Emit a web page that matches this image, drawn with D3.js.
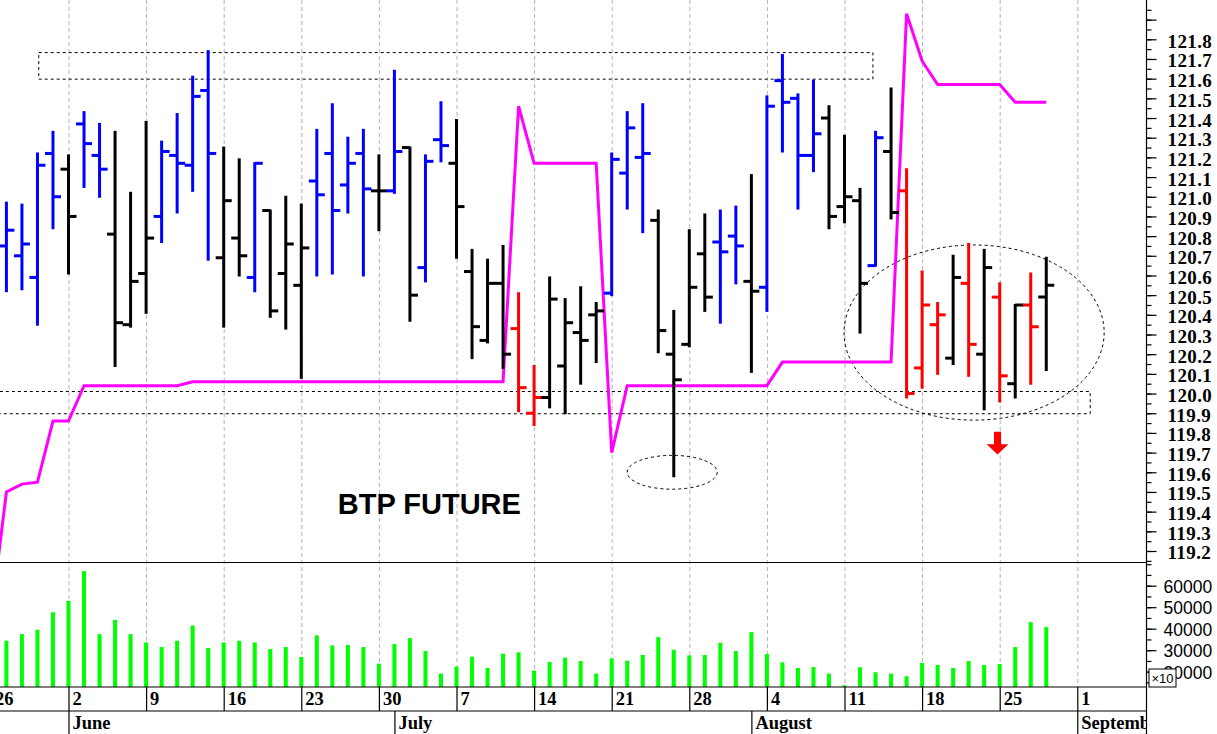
<!DOCTYPE html>
<html><head><meta charset="utf-8">
<script src="https://cdn.jsdelivr.net/npm/d3@7"></script>
<style>body{margin:0;background:#fff}svg{display:block}</style>
</head><body>
<svg id="c" width="1217" height="734"></svg>
<script>
// ---------------- DATA ----------------
const dates = [
 "2014-05-26","2014-05-27","2014-05-28","2014-05-29","2014-05-30",
 "2014-06-02","2014-06-03","2014-06-04","2014-06-05","2014-06-06",
 "2014-06-09","2014-06-10","2014-06-11","2014-06-12","2014-06-13",
 "2014-06-16","2014-06-17","2014-06-18","2014-06-19","2014-06-20",
 "2014-06-23","2014-06-24","2014-06-25","2014-06-26","2014-06-27",
 "2014-06-30","2014-07-01","2014-07-02","2014-07-03","2014-07-04",
 "2014-07-07","2014-07-08","2014-07-09","2014-07-10","2014-07-11",
 "2014-07-14","2014-07-15","2014-07-16","2014-07-17","2014-07-18",
 "2014-07-21","2014-07-22","2014-07-23","2014-07-24","2014-07-25",
 "2014-07-28","2014-07-29","2014-07-30","2014-07-31","2014-08-01",
 "2014-08-04","2014-08-05","2014-08-06","2014-08-07","2014-08-08",
 "2014-08-11","2014-08-12","2014-08-13","2014-08-14","2014-08-15",
 "2014-08-18","2014-08-19","2014-08-20","2014-08-21","2014-08-22",
 "2014-08-25","2014-08-26","2014-08-27","2014-08-28"
];
const futureDates = ["2014-08-29","2014-09-01"];

const open = [120.70,120.75,120.70,120.59,121.22, 121.14,121.37,121.21,120.81,120.35, 120.61,120.90,121.21,121.16,121.54,
 120.69,120.79,120.59,120.93,120.61, 120.55,121.08,121.22,121.06,121.22, 121.03,121.03,121.25,120.64,121.29,
 121.17,120.62,120.27,120.56,120.33, 119.90,119.98,120.14,120.31,120.40, 120.51,121.12,121.20,120.88,120.20,
 120.25,120.71,120.77,120.80,120.57, 120.54,121.59,121.50,121.21,121.40, 120.95,120.98,120.65,121.23,121.03,
 120.13,120.35,120.18,120.56,120.20, 120.49,120.05,120.45,120.49];
const high = [120.80,120.97,120.96,121.22,121.33, 121.21,121.43,121.37,121.33,121.02, 121.38,121.28,121.42,121.61,121.74,
 121.25,121.19,121.17,120.93,121.00, 120.96,121.34,121.47,121.30,121.34, 121.21,121.64,121.25,121.21,121.48,
 121.39,120.73,120.68,120.75,120.51, 120.14,120.59,120.48,120.54,120.46, 121.22,121.43,121.47,120.93,120.42,
 120.83,120.91,120.93,120.95,121.11, 121.51,121.72,121.52,121.59,121.46, 121.31,121.04,121.33,121.55,121.14,
 120.62,120.46,120.70,120.76,120.73, 120.56,120.45,120.61,120.69];
const low = [120.50,120.52,120.53,120.35,120.84, 120.61,121.05,121.00,120.14,120.34, 120.41,120.77,120.92,121.03,120.68,
 120.34,120.60,120.52,120.39,120.33, 120.08,120.60,120.61,120.92,120.60, 120.83,121.02,120.37,120.57,121.18,
 120.69,120.18,120.26,120.13,119.91, 119.84,119.93,119.90,120.05,120.16, 120.50,120.94,120.82,120.21,119.58,
 120.24,120.42,120.36,120.56,120.11, 120.42,121.23,120.94,121.13,120.84, 120.87,120.31,120.65,120.89,119.98,
 120.03,120.10,120.15,120.09,119.92, 119.96,119.98,120.05,120.12];
const close = [120.57,120.83,120.76,121.16,121.00, 120.90,121.27,121.14,120.36,120.57, 120.79,121.23,121.17,121.51,121.22,
 120.98,120.70,121.17,120.42,120.76, 120.74,121.01,120.93,121.17,121.04, 121.03,121.23,120.50,121.18,121.26,
 120.95,120.34,120.56,120.20,120.03, 119.98,120.48,120.36,120.27,120.42, 121.19,121.35,121.22,120.32,120.07,
 120.54,120.49,120.72,120.75,120.52, 121.46,121.48,121.21,121.32,120.90, 121.00,120.56,121.30,120.92,120.00,
 120.45,120.40,120.59,120.25,120.64, 120.09,120.45,120.34,120.55];
// bar colour class: b = blue, k = black, r = red
const barClass = ("b b b b b  k b b k k  k b b b b  k k b k k  k b b b b  k b k b b  k k k k r  r k k k k  b b b k k"
 + "  k k b b k  b b b b k  k k b k r  r r k r k  r k r k").trim().split(/\s+/);
const stopLine = [118.86,119.50,119.54,119.55,119.86, 119.86,120.04,120.04,120.04,120.04, 120.04,120.04,120.04,120.06,120.06,
 120.06,120.06,120.06,120.06,120.06, 120.06,120.06,120.06,120.06,120.06, 120.06,120.06,120.06,120.06,120.06,
 120.06,120.06,120.06,120.06,121.46, 121.17,121.17,121.17,121.17,121.17, 119.70,120.04,120.04,120.04,120.04,
 120.04,120.04,120.04,120.04,120.04, 120.04,120.16,120.16,120.16,120.16, 120.16,120.16,120.16,120.16,121.93,
 121.69,121.57,121.57,121.57,121.57, 121.57,121.48,121.48,121.48];
const volume = [35000,34400,37480,39490,47670, 52920,66800,37480,44120,37480, 33600,31460,34400,41500,31000,
 33600,34400,33600,30540,31460, 26830,36870,32240,32400,31460, 23750,32850,35630,29610,19120,
 22360,26990,21740,28380,29000, 20510,24520,26530,24980,19120, 26220,25140,27760,36090,30230,
 27600,27760,33470,29610,38410, 28220,24360,21740,22200,19120, 13710,22050,19730,19120,17880,
 24060,23130,21740,24980,23130, 23590,31460,43040,40720];
const priceLabels = ["119.2","119.3","119.4","119.5","119.6","119.7","119.8","119.9","120.0","120.1","120.2","120.3","120.4",
 "120.5","120.6","120.7","120.8","120.9","121.0","121.1","121.2","121.3","121.4","121.5","121.6","121.7","121.8"];
const volumeLabels = ["20000","30000","40000","50000","60000"];
const monthLabels = [["2014-06-02","June"],["2014-07-01","July"],["2014-08-01","August"],["2014-09-01","September"]];
const title = "BTP FUTURE";
// annotations in data units: [calendar index, price]
const boxTop = {i0:3.05, i1:56.8, p0:121.6, p1:121.735};
const boxBottom = {i0:-1, i1:70.8, p0:119.9, p1:120.013};
const ellipseBig = {i:63.35, p:120.31, ri:8.38, rp:0.445};
const ellipseSmall = {i:43.9, p:119.6, ri:2.9, rp:0.086};
const arrowAt = {i:64.86, p0:119.806, p1:119.742, p2:119.69};
const titleAt = {i:22.35, p:119.39};

// ---------------- LAYOUT ----------------
const W = 1217, H = 734;
const axisX = 1146.5, priceBottom = 562.5, volBottom = 687, dayBottom = 711;
const svg = d3.select("#c");
svg.append("rect").attr("width",W).attr("height",H).attr("fill","#fff");

const calendar = dates.concat(futureDates);
const parse = d3.timeParse("%Y-%m-%d");
const calIdx = d => calendar.indexOf(d);
const x = d3.scaleLinear().domain([calIdx("2014-06-02"), calIdx("2014-09-01")]).range([68.5, 1077.3]);
const y = d3.scaleLinear().domain([119.2, 121.8]).range([551.0, 39.3]);
const yv = d3.scaleLinear().domain([20000, 60000]).range([671.7, 585.7]);

const defs = svg.append("defs");
defs.append("clipPath").attr("id","cp").append("rect").attr("x",0).attr("y",0).attr("width",axisX).attr("height",priceBottom);
defs.append("clipPath").attr("id","cv").append("rect").attr("x",0).attr("y",priceBottom).attr("width",axisX).attr("height",volBottom-priceBottom);
defs.append("clipPath").attr("id","cd").append("rect").attr("x",0).attr("y",volBottom).attr("width",axisX).attr("height",H-volBottom);

// Mondays
const mondays = calendar.filter(d => parse(d).getDay() === 1);

// gridlines
svg.append("g").selectAll("line").data(mondays).join("line")
  .attr("x1", d => x(calIdx(d))+0.5).attr("x2", d => x(calIdx(d))+0.5)
  .attr("y1", 0).attr("y2", volBottom)
  .attr("stroke","#b4b4b4").attr("stroke-width",1).attr("stroke-dasharray","4,3");

// ---------- price panel ----------
const gp = svg.append("g").attr("clip-path","url(#cp)");
const colorOf = {b:"#0000ff", k:"#000000", r:"#ff0000"};
const bars = d3.range(dates.length).map(k => ({i:k, o:open[k], h:high[k], l:low[k], c:close[k], col:colorOf[barClass[k]]}));

// annotations (dashed)
const dash = g => g.attr("fill","none").attr("stroke","#000").attr("stroke-width",1).attr("stroke-dasharray","3,3");
gp.append("rect").call(dash)
  .attr("x", x(boxTop.i0)+0.5).attr("y", y(boxTop.p1)+0.5)
  .attr("width", x(boxTop.i1)-x(boxTop.i0)).attr("height", y(boxTop.p0)-y(boxTop.p1));
gp.append("rect").call(dash)
  .attr("x", x(boxBottom.i0)+0.5).attr("y", y(boxBottom.p1)+0.5)
  .attr("width", x(boxBottom.i1)-x(boxBottom.i0)).attr("height", y(boxBottom.p0)-y(boxBottom.p1));
[ellipseBig, ellipseSmall].forEach(e => {
  gp.append("ellipse").call(dash)
    .attr("cx", x(e.i)).attr("cy", y(e.p))
    .attr("rx", x(e.i+e.ri)-x(e.i)).attr("ry", y(e.p-e.rp)-y(e.p));
});

// stop line (magenta)
gp.append("path").datum(bars)
  .attr("fill","none").attr("stroke","#ff00ff").attr("stroke-width",3).attr("stroke-linejoin","miter")
  .attr("d", d3.line().x(d => x(d.i)).y(d => y(stopLine[d.i])));

// OHLC bars
const gb = gp.append("g").selectAll("g").data(bars).join("g").attr("stroke", d => d.col).attr("stroke-width",3);
gb.append("line").attr("x1", d => x(d.i)).attr("x2", d => x(d.i)).attr("y1", d => y(d.h)-1).attr("y2", d => y(d.l)+1);
gb.append("line").attr("x1", d => x(d.i)-8).attr("x2", d => x(d.i)).attr("y1", d => y(d.o)).attr("y2", d => y(d.o));
gb.append("line").attr("x1", d => x(d.i)).attr("x2", d => x(d.i)+8).attr("y1", d => y(d.c)).attr("y2", d => y(d.c));

// arrow
{
  const cx = x(arrowAt.i), hw = x(arrowAt.i+0.7)-cx, sw = x(arrowAt.i+0.23)-cx;
  const yt = y(arrowAt.p0), ym = y(arrowAt.p1), yb = y(arrowAt.p2);
  gp.append("path").attr("fill","#ff0000")
    .attr("d", `M${cx-sw},${yt}L${cx+sw},${yt}L${cx+sw},${ym}L${cx+hw},${ym}L${cx},${yb}L${cx-hw},${ym}L${cx-sw},${ym}Z`);
}

// title
gp.append("text").attr("x", x(titleAt.i)).attr("y", y(titleAt.p))
  .attr("font-family","'Liberation Sans', Arial, sans-serif").attr("font-weight","bold")
  .attr("font-size", 29).attr("fill","#000").text(title);

// ---------- volume panel ----------
const gv = svg.append("g").attr("clip-path","url(#cv)");
gv.selectAll("rect").data(bars).join("rect")
  .attr("x", d => x(d.i)-2).attr("width",4)
  .attr("y", d => yv(volume[d.i])).attr("height", d => volBottom - yv(volume[d.i]))
  .attr("fill","#00ff00");

// ---------- frame lines ----------
const fl = svg.append("g").attr("stroke","#000").attr("stroke-width",1.2);
fl.append("line").attr("x1",0).attr("x2",axisX).attr("y1",priceBottom).attr("y2",priceBottom);
fl.append("line").attr("x1",0).attr("x2",axisX).attr("y1",volBottom).attr("y2",volBottom);
fl.append("line").attr("x1",0).attr("x2",axisX).attr("y1",dayBottom).attr("y2",dayBottom);
fl.append("line").attr("x1",axisX).attr("x2",axisX).attr("y1",0).attr("y2",H);

// ---------- right price axis ----------
const serif = "'Liberation Serif', 'Times New Roman', serif";
const majorP = priceLabels.map(Number);
const minorP = d3.range(119.15, 122.01, 0.05).map(v => +v.toFixed(2)).filter(v => y(v) >= 0 && y(v) <= priceBottom);
const gMinorP = svg.append("g").attr("transform",`translate(${axisX},0)`)
  .call(d3.axisRight(y).tickValues(minorP).tickSize(5).tickFormat(""));
const gMajorP = svg.append("g").attr("transform",`translate(${axisX},0)`)
  .call(d3.axisRight(y).tickValues(majorP.concat([121.9,122.0]).filter(v=>y(v)>=0)).tickSize(10).tickPadding(11)
    .tickFormat(v => priceLabels.includes(v.toFixed(1)) ? v.toFixed(1) : ""));
[gMinorP, gMajorP].forEach(g => { g.select(".domain").remove(); g.selectAll(".tick line").attr("stroke","#000").attr("stroke-width",1.2); });
gMajorP.selectAll(".tick text").attr("font-family", serif).attr("font-weight","bold").attr("font-size",19)
  .attr("letter-spacing","0.4px").attr("fill","#000").attr("dy","0.42em");

// ---------- right volume axis ----------
const minorV = d3.range(15000, 70001, 5000).filter(v => yv(v) >= priceBottom && yv(v) <= volBottom);
const gMinorV = svg.append("g").attr("transform",`translate(${axisX},0)`)
  .call(d3.axisRight(yv).tickValues(minorV).tickSize(5).tickFormat(""));
const gMajorV = svg.append("g").attr("transform",`translate(${axisX},0)`)
  .call(d3.axisRight(yv).tickValues(volumeLabels.map(Number)).tickSize(10).tickPadding(7).tickFormat(v => String(v)));
[gMinorV, gMajorV].forEach(g => { g.select(".domain").remove(); g.selectAll(".tick line").attr("stroke","#000").attr("stroke-width",1.2); });
gMajorV.selectAll(".tick text").attr("font-family","'Liberation Sans', Arial, sans-serif").attr("font-size",17.5)
  .attr("fill","#000").attr("dy","0.36em");
// x10 box
{
  const bx = axisX + 2.5, by = volBottom - 18;
  svg.append("rect").attr("x",bx).attr("y",by).attr("width",27).attr("height",18)
    .attr("fill","#fff").attr("stroke","#000").attr("stroke-width",1);
  svg.append("text").attr("x",bx+2.5).attr("y",by+14).attr("font-family","'Liberation Sans', Arial, sans-serif")
    .attr("font-size",13).attr("fill","#000").text("×10");
}

// ---------- date axis ----------
const gd = svg.append("g").attr("clip-path","url(#cd)");
gd.selectAll("line.day").data(mondays).join("line").attr("class","day")
  .attr("x1", d => x(calIdx(d))+0.5).attr("x2", d => x(calIdx(d))+0.5)
  .attr("y1", volBottom).attr("y2", dayBottom).attr("stroke","#000").attr("stroke-width",1.2);
gd.selectAll("text.day").data(mondays).join("text").attr("class","day")
  .attr("x", d => x(calIdx(d))+4).attr("y", 705)
  .attr("font-family", serif).attr("font-weight","bold").attr("font-size",18.5).attr("fill","#000")
  .text(d => String(parse(d).getDate()));
gd.selectAll("line.mon").data(monthLabels).join("line").attr("class","mon")
  .attr("x1", d => x(calIdx(d[0]))+0.5).attr("x2", d => x(calIdx(d[0]))+0.5)
  .attr("y1", dayBottom).attr("y2", H).attr("stroke","#000").attr("stroke-width",1.2);
gd.selectAll("text.mon").data(monthLabels).join("text").attr("class","mon")
  .attr("x", d => x(calIdx(d[0]))+4).attr("y", 729)
  .attr("font-family", serif).attr("font-weight","bold").attr("font-size",18.5).attr("fill","#000")
  .text(d => d[1]);
</script>
</body></html>
